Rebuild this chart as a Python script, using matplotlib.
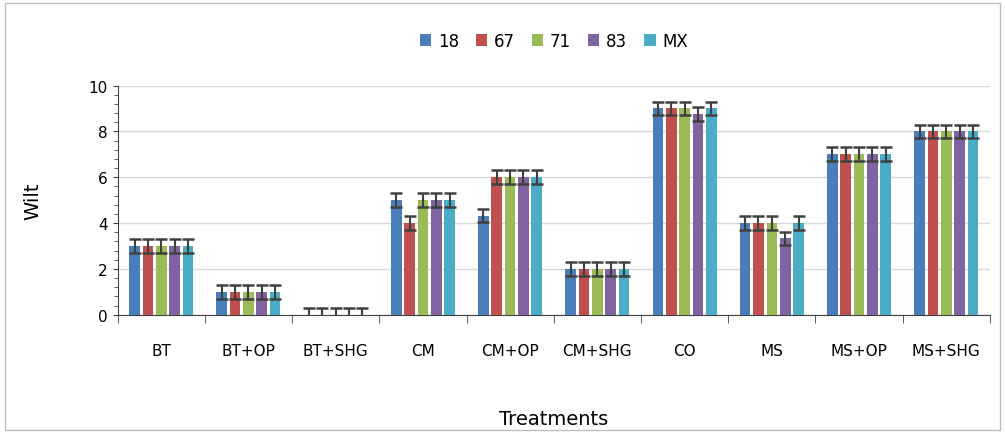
import matplotlib.pyplot as plt
import numpy as np
from matplotlib.patches import Rectangle

treatments = ['BT', 'BT+OP', 'BT+SHG', 'CM', 'CM+OP', 'CM+SHG', 'CO', 'MS', 'MS+OP', 'MS+SHG']
series = ['18', '67', '71', '83', 'MX']
colors = ['#4a7ebb', '#c0504d', '#9bbb59', '#8064a2', '#4bacc6']

wilt = {
    '18': [3, 1, 0, 5, 4.33, 2, 9, 4, 7, 8],
    '67': [3, 1, 0, 4, 6, 2, 9, 4, 7, 8],
    '71': [3, 1, 0, 5, 6, 2, 9, 4, 7, 8],
    '83': [3, 1, 0, 5, 6, 2, 8.75, 3.33, 7, 8],
    'MX': [3, 1, 0, 5, 6, 2, 9, 4, 7, 8],
}
err = 0.3

fig = plt.figure(figsize=(10.05, 4.35), dpi=100)
ax = fig.add_axes([0.117, 0.274, 0.868, 0.527])

x = np.arange(len(treatments))
w = 0.153
for i, s in enumerate(series):
    ax.bar(x + (i - 2) * w, wilt[s], w * 0.8, color=colors[i], label=s, zorder=3,
           yerr=err, error_kw=dict(ecolor='#404040', elinewidth=1.5, capsize=4, capthick=1.8))

ax.set_xlim(-0.5, len(treatments) - 0.5)
ax.set_ylim(0, 10)
ax.set_yticks(range(0, 11, 2))
ax.set_yticks(np.arange(0, 10.01, 0.4), minor=True)
ax.yaxis.grid(True, color='#d9d9d9', linewidth=1, zorder=0)
ax.set_xticks(x)
ax.set_xticklabels(treatments, fontsize=11)
ax.set_xticks(np.arange(-0.5, len(treatments)), minor=True)
ax.tick_params(axis='x', which='major', length=0, pad=20)
ax.tick_params(axis='x', which='minor', length=6, direction='out', color='#404040')
ax.tick_params(axis='y', which='both', direction='out', color='#404040', labelsize=11)
ax.tick_params(axis='y', which='minor', length=3)
for side in ['top', 'right']:
    ax.spines[side].set_visible(False)
ax.spines['left'].set_color('#404040')
ax.spines['bottom'].set_color('#404040')

ax.set_ylabel('Wilt', fontsize=14, labelpad=33)
fig.text(0.551, 0.036, 'Treatments', fontsize=14, ha='center', va='center')
ax.legend(loc='lower center', bbox_to_anchor=(0.5, 1.09), ncol=5, frameon=False,
          fontsize=12, handlelength=0.7, handleheight=0.7, columnspacing=1.0, handletextpad=0.4)

fig.patches.append(Rectangle((0.005, 0.01), 0.99, 0.98, transform=fig.transFigure,
                             fill=False, edgecolor='#bfbfbf', linewidth=1))

plt.savefig('out.png')
